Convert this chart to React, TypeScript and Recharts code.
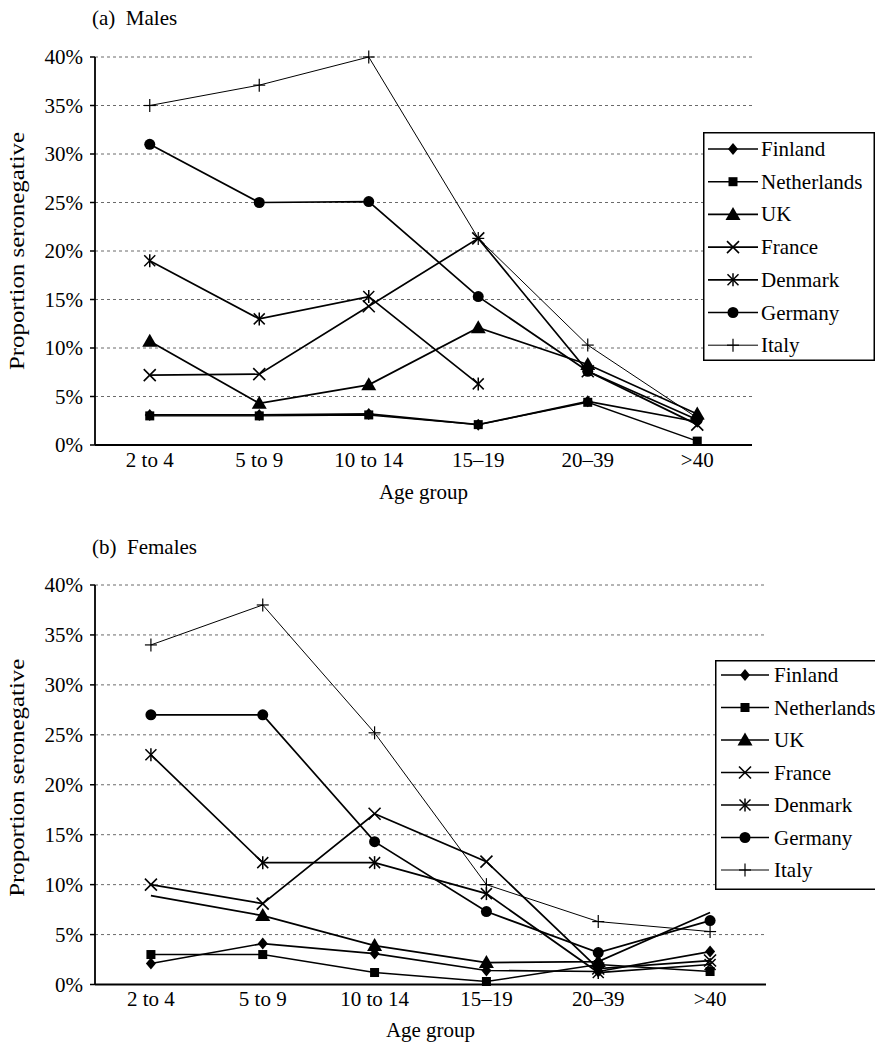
import React from 'react';
import { LineChart, Line, XAxis, YAxis, CartesianGrid } from 'recharts';

const SERIF = '"Liberation Serif", "Times New Roman", Times, serif';

const AGE_GROUPS = ['2 to 4', '5 to 9', '10 to 14', '15–19', '20–39', '>40'];
const COUNTRIES = ['Finland', 'Netherlands', 'UK', 'France', 'Denmark', 'Germany', 'Italy'];
const PERCENT_TICKS = [0, 5, 10, 15, 20, 25, 30, 35, 40];

// (a) Males — proportion seronegative (%)
const MALE_FINLAND = [3.1, 3.1, 3.2, 2.1, 4.5, 2.4];
const MALE_NETHERLANDS = [3.0, 3.0, 3.1, 2.1, 4.4, 0.4];
const MALE_UK = [10.7, 4.3, 6.2, 12.1, 8.3, 3.2];
const MALE_FRANCE = [7.2, 7.3, 14.3, 21.3, 7.6, 2.1];
const MALE_DENMARK = [19.0, 13.0, 15.3, 6.3, null, null];
const MALE_GERMANY = [31.0, 25.0, 25.1, 15.3, 7.6, 2.6];
const MALE_ITALY = [35.0, 37.1, 40.0, 21.3, 10.3, 2.8];

// (b) Females — proportion seronegative (%)
const FEMALE_FINLAND = [2.1, 4.1, 3.1, 1.4, 1.3, 3.3];
const FEMALE_NETHERLANDS = [3.0, 3.0, 1.2, 0.3, 2.0, 1.3];
const FEMALE_UK = [8.9, 6.9, 3.9, 2.2, 2.3, 7.2];
const FEMALE_FRANCE = [10.0, 8.1, 17.1, 12.3, 1.6, 2.4];
const FEMALE_DENMARK = [23.0, 12.2, 12.2, 9.1, 1.2, 2.0];
const FEMALE_GERMANY = [27.0, 27.0, 14.3, 7.3, 3.2, 6.4];
const FEMALE_ITALY = [34.0, 38.0, 25.2, 10.0, 6.3, 5.3];

const SERIES_STYLE: Record<string, { shape: string; width: number }> = {
  Finland: { shape: 'diamond', width: 1.7 },
  Netherlands: { shape: 'square', width: 1.4 },
  UK: { shape: 'triangle', width: 1.7 },
  France: { shape: 'cross', width: 1.7 },
  Denmark: { shape: 'star', width: 1.7 },
  Germany: { shape: 'circle', width: 1.7 },
  Italy: { shape: 'plus', width: 1 },
};

function buildRows(series: Record<string, (number | null)[]>) {
  return AGE_GROUPS.map((age, i) => {
    const row: any = { pos: i + 0.5, age };
    COUNTRIES.forEach((c) => {
      row[c] = series[c][i];
    });
    return row;
  });
}

const MALE_ROWS = buildRows({
  Finland: MALE_FINLAND,
  Netherlands: MALE_NETHERLANDS,
  UK: MALE_UK,
  France: MALE_FRANCE,
  Denmark: MALE_DENMARK,
  Germany: MALE_GERMANY,
  Italy: MALE_ITALY,
});

const FEMALE_ROWS = buildRows({
  Finland: FEMALE_FINLAND,
  Netherlands: FEMALE_NETHERLANDS,
  UK: FEMALE_UK,
  France: FEMALE_FRANCE,
  Denmark: FEMALE_DENMARK,
  Germany: FEMALE_GERMANY,
  Italy: FEMALE_ITALY,
});

function Marker({ shape, cx, cy }: { shape: string; cx: number; cy: number }) {
  switch (shape) {
    case 'diamond':
      return <polygon points={`${cx},${cy - 6} ${cx + 5},${cy} ${cx},${cy + 6} ${cx - 5},${cy}`} fill="#000" />;
    case 'square':
      return <rect x={cx - 4.5} y={cy - 4.5} width={9} height={9} fill="#000" />;
    case 'triangle':
      return <polygon points={`${cx},${cy - 7.5} ${cx + 7.5},${cy + 5.5} ${cx - 7.5},${cy + 5.5}`} fill="#000" />;
    case 'cross':
      return (
        <g stroke="#000" strokeWidth={1.6}>
          <line x1={cx - 6} y1={cy - 6} x2={cx + 6} y2={cy + 6} />
          <line x1={cx - 6} y1={cy + 6} x2={cx + 6} y2={cy - 6} />
        </g>
      );
    case 'star':
      return (
        <g stroke="#000" strokeWidth={1.5}>
          <line x1={cx - 5.5} y1={cy - 5.5} x2={cx + 5.5} y2={cy + 5.5} />
          <line x1={cx - 5.5} y1={cy + 5.5} x2={cx + 5.5} y2={cy - 5.5} />
          <line x1={cx} y1={cy - 6.5} x2={cx} y2={cy + 6.5} />
        </g>
      );
    case 'circle':
      return <circle cx={cx} cy={cy} r={5.5} fill="#000" />;
    case 'plus':
    default:
      return (
        <g stroke="#000" strokeWidth={1.2}>
          <line x1={cx - 6} y1={cy} x2={cx + 6} y2={cy} />
          <line x1={cx} y1={cy - 6.5} x2={cx} y2={cy + 6.5} />
        </g>
      );
  }
}

function makeDot(country: string, skip: number[]) {
  const shape = SERIES_STYLE[country].shape;
  return (props: any) => {
    const { cx, cy, index, value } = props;
    const key = `${country}-${index}`;
    if (cx == null || cy == null || value == null || (Array.isArray(value) && value[1] == null) || skip.includes(index)) {
      return <g key={key} />;
    }
    return (
      <g key={key}>
        <Marker shape={shape} cx={cx} cy={cy} />
      </g>
    );
  };
}

type ChartProps = {
  rows: any[];
  top: number;
  height: number;
  marginTop: number;
  marginRight: number;
  labelAxisHeight: number;
  ageLabelOffset: number;
  yLabelShift: number;
  skipDots: Record<string, number[]>;
};

function AgeChart({ rows, top, height, marginTop, marginRight, labelAxisHeight, ageLabelOffset, yLabelShift, skipDots }: ChartProps) {
  const bounds = AGE_GROUPS.map((_, i) => i).concat(AGE_GROUPS.length);
  const centers = rows.map((r) => r.pos);
  const tickStyle = { fill: '#000', fontSize: 21, fontFamily: SERIF };

  const yLabel = (props: any) => {
    const vb = props.viewBox || {};
    const cy = (vb.y ?? 0) + (vb.height ?? 0) / 2 + yLabelShift;
    return (
      <text
        x={24}
        y={cy}
        transform={`rotate(-90 24 ${cy})`}
        textAnchor="middle"
        fontFamily={SERIF}
        fontSize={21}
        textLength={238}
        lengthAdjust="spacingAndGlyphs"
        fill="#000"
      >
        Proportion seronegative
      </text>
    );
  };

  const xLabel = (props: any) => {
    const vb = props.viewBox || {};
    return (
      <text
        x={(vb.x ?? 0) + (vb.width ?? 0) / 2}
        y={(vb.y ?? 0) + ageLabelOffset}
        textAnchor="middle"
        fontFamily={SERIF}
        fontSize={21}
        fill="#000"
      >
        Age group
      </text>
    );
  };

  return (
    <div style={{ position: 'absolute', left: 0, top, width: 875, height }}>
      <LineChart
        width={875}
        height={height}
        data={rows}
        margin={{ top: marginTop, right: marginRight, bottom: 0, left: 0 }}
      >
        <CartesianGrid xAxisId="bounds" vertical={false} stroke="#444" strokeDasharray="3 3" strokeWidth={0.8} />
        <XAxis
          xAxisId="bounds"
          type="number"
          dataKey="pos"
          domain={[0, AGE_GROUPS.length]}
          ticks={bounds}
          interval={0}
          tick={false}
          height={1}
          tickSize={6}
          axisLine={{ stroke: '#000', strokeWidth: 1.8 }}
          tickLine={{ stroke: '#000', strokeWidth: 1.5 }}
        />
        <XAxis
          xAxisId="labels"
          type="number"
          dataKey="pos"
          domain={[0, AGE_GROUPS.length]}
          ticks={centers}
          interval={0}
          tickFormatter={(v: number) => AGE_GROUPS[Math.floor(v)]}
          height={labelAxisHeight}
          axisLine={false}
          tickLine={false}
          tickSize={4}
          tickMargin={2}
          tick={tickStyle}
          label={xLabel}
        />
        <YAxis
          type="number"
          domain={[0, 40]}
          ticks={PERCENT_TICKS}
          interval={0}
          width={95}
          tickSize={5}
          tickMargin={7}
          tickFormatter={(v: number) => `${v}%`}
          axisLine={{ stroke: '#000', strokeWidth: 1.8 }}
          tickLine={{ stroke: '#000', strokeWidth: 1.5 }}
          tick={tickStyle}
          label={yLabel}
        />
        {COUNTRIES.map((c) => (
          <Line
            key={c}
            xAxisId="bounds"
            type="linear"
            dataKey={c}
            stroke="#000"
            strokeWidth={SERIES_STYLE[c].width}
            dot={makeDot(c, skipDots[c] || [])}
            activeDot={false}
            connectNulls={false}
            isAnimationActive={false}
          />
        ))}
      </LineChart>
    </div>
  );
}

type LegendProps = {
  left: number;
  top: number;
  width: number;
  height: number;
  boxWidth: number;
  firstRowY: number;
  rowGap: number;
  lineX1: number;
  lineX2: number;
  textX: number;
};

function LegendBox({ left, top, width, height, boxWidth, firstRowY, rowGap, lineX1, lineX2, textX }: LegendProps) {
  return (
    <svg style={{ position: 'absolute', left, top }} width={width} height={height}>
      <rect x={0.75} y={0.75} width={boxWidth} height={height - 1.5} fill="#fff" stroke="#000" strokeWidth={1.5} />
      {COUNTRIES.map((c, i) => {
        const y = firstRowY + i * rowGap;
        const st = SERIES_STYLE[c];
        return (
          <g key={c}>
            <line x1={lineX1} x2={lineX2} y1={y} y2={y} stroke="#000" strokeWidth={st.width} />
            <Marker shape={st.shape} cx={(lineX1 + lineX2) / 2} cy={y} />
            <text x={textX} y={y} dominantBaseline="central" fontFamily={SERIF} fontSize={21} fill="#000">
              {c}
            </text>
          </g>
        );
      })}
    </svg>
  );
}

const titleStyle: React.CSSProperties = {
  position: 'absolute',
  left: 92,
  fontFamily: SERIF,
  fontSize: 21,
  lineHeight: '21px',
  whiteSpace: 'pre',
  color: '#000',
};

export default function App() {
  return (
    <div style={{ position: 'absolute', left: 0, top: 0, width: 875, height: 1048, background: '#fff', overflow: 'hidden' }}>
      <div style={{ ...titleStyle, top: 8 }}>(a)  Males</div>
      <AgeChart
        rows={MALE_ROWS}
        top={0}
        height={510}
        marginTop={57}
        marginRight={123}
        labelAxisHeight={64}
        ageLabelOffset={53}
        yLabelShift={0}
        skipDots={{}}
      />
      <LegendBox
        left={703}
        top={132}
        width={172}
        height={229}
        boxWidth={170.5}
        firstRowY={17}
        rowGap={32.7}
        lineX1={5}
        lineX2={55}
        textX={58}
      />

      <div style={{ ...titleStyle, top: 537 }}>(b)  Females</div>
      <AgeChart
        rows={FEMALE_ROWS}
        top={530}
        height={518}
        marginTop={55}
        marginRight={109}
        labelAxisHeight={62.5}
        ageLabelOffset={51.5}
        yLabelShift={-7}
        skipDots={{ UK: [0, 5] }}
      />
      <LegendBox
        left={715}
        top={660}
        width={160}
        height={230}
        boxWidth={200}
        firstRowY={15}
        rowGap={32.5}
        lineX1={6}
        lineX2={54}
        textX={59}
      />
    </div>
  );
}
